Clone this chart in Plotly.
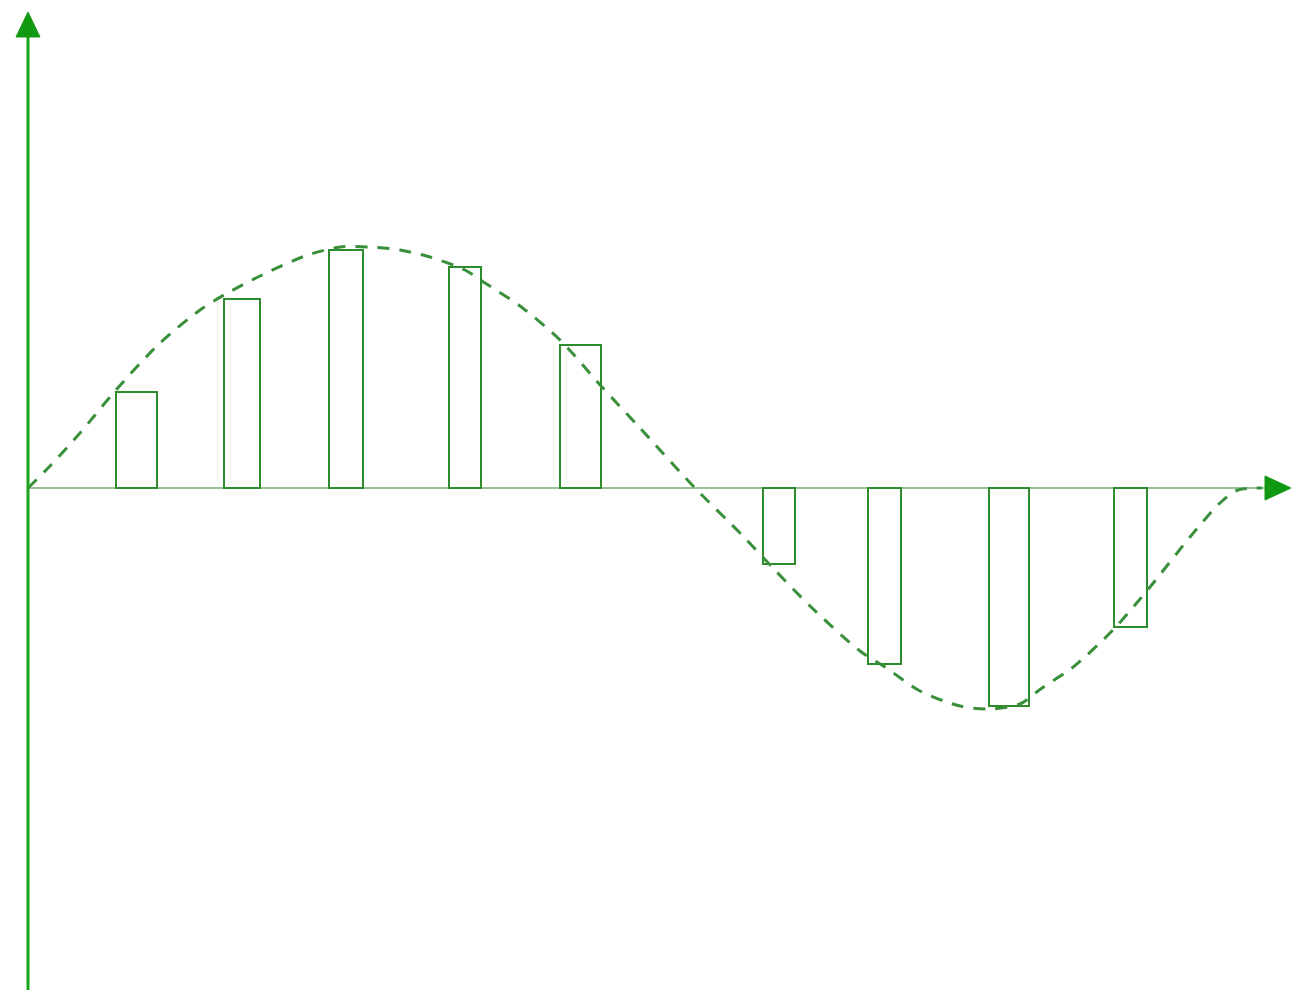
import plotly.graph_objects as go

# Bars: centre position, width, value (positive above the axis)
bar_x = [136.5, 242, 346, 465, 580.5, 779, 884.5, 1009, 1130]
bar_w = [41, 36, 34, 32, 41, 32, 33, 40, 33]
bar_v = [96, 189, 238, 221, 143, -76, -176, -218, -139]

# Dashed wave curve (position, value)
curve_x = [28, 50, 80, 116, 160, 200, 224, 260, 305, 340, 370, 400, 430, 465, 485,
           520, 560, 602, 640, 695, 742, 772, 810, 860, 885, 920, 960, 990, 1020,
           1042, 1072, 1113, 1150, 1190, 1220, 1238, 1262]
curve_y = [0, 22, 55, 98, 145, 178, 193, 212, 232, 241, 241, 238, 231, 218, 205,
           182, 148, 101, 60, 0, -47, -79, -118, -163, -179, -203, -218, -221, -216,
           -200, -180, -142, -99, -49, -15, -2, 0]

GREEN = "#2e8b2e"
AXIS_GREEN = "#19a319"

fig = go.Figure()
fig.add_trace(go.Bar(
    x=bar_x, y=bar_v, width=bar_w, base=0,
    marker=dict(color="rgba(255,255,255,0)", line=dict(color=GREEN, width=2)),
    showlegend=False, hoverinfo="skip",
))
fig.add_trace(go.Scatter(
    x=curve_x, y=curve_y, mode="lines",
    line=dict(color="#3a8f3a", width=3, dash="12px,10px", shape="spline", smoothing=0.8),
    showlegend=False, hoverinfo="skip",
))

shapes = [
    # x axis line
    dict(type="line", x0=28, y0=0, x1=1268, y1=0, line=dict(color="#7aa87a", width=1.5), layer="below"),
    # y axis line
    dict(type="line", x0=28, y0=-502, x1=28, y1=455, line=dict(color=AXIS_GREEN, width=3)),
    # y arrow head
    dict(type="path", path="M 16 451 L 40 451 L 28 476 Z", fillcolor="#119911", line=dict(color="#119911", width=1)),
    # x arrow head
    dict(type="path", path="M 1265 12 L 1265 -12 L 1291 0 Z", fillcolor="#119911", line=dict(color="#119911", width=1)),
]

fig.update_layout(
    width=1307, height=995,
    margin=dict(l=0, r=0, t=0, b=0),
    paper_bgcolor="white", plot_bgcolor="white",
    xaxis=dict(range=[8, 1315], visible=False, fixedrange=True),
    yaxis=dict(range=[-515, 480], visible=False, fixedrange=True),
    shapes=shapes,
    bargap=0,
)
fig.write_html("out.html")
